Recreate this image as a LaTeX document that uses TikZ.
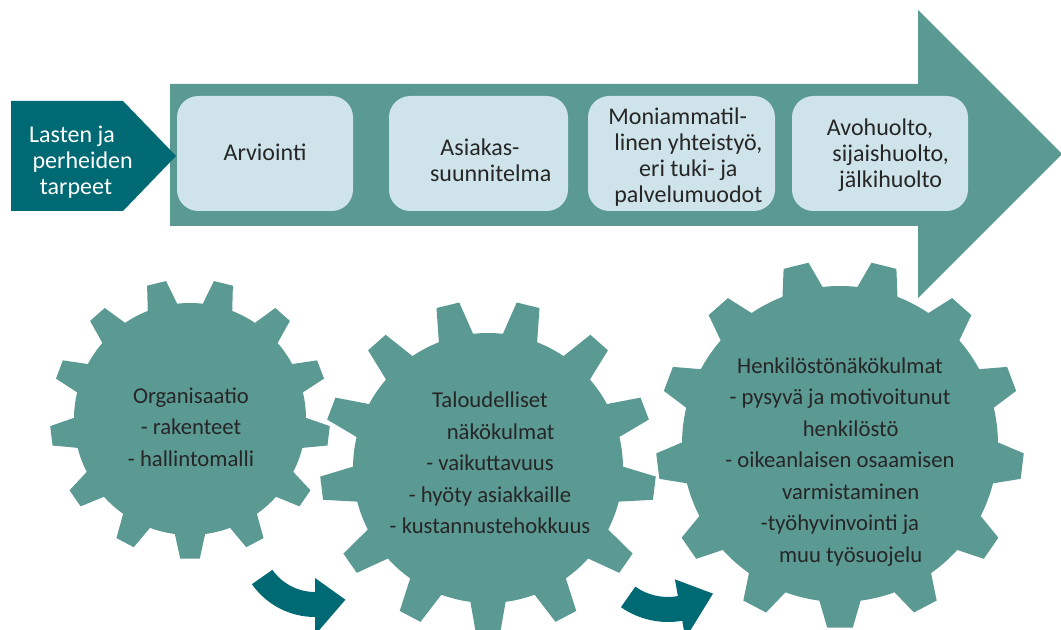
\documentclass[tikz,border=0pt]{standalone}
\usepackage{fontspec}
\setmainfont{Carlito}
\usepackage{tikz}

\definecolor{flowteal}{HTML}{5B9993}
\definecolor{darkteal}{HTML}{006A74}
\definecolor{boxblue}{HTML}{CFE4EA}
\definecolor{inktext}{HTML}{262626}

\begin{document}
\begin{tikzpicture}[x=0.75pt,y=0.75pt,yscale=-1,xscale=1,
    boxtext/.style={inner sep=0.75pt,align=center,text=inktext,font=\fontsize{18}{19.5}\selectfont},
    geartext/.style={inner sep=0.75pt,align=center,text=inktext,font=\fontsize{17}{23.6}\selectfont},
    gearfill/.style={fill=flowteal},
    turnfill/.style={fill=darkteal}]
    \useasboundingbox (0,0) rectangle (1061,630); %set diagram size 1061 x 630

    %Shape: Right Arrow
    \fill[flowteal] (170,84) -- (918,84) -- (918,10) -- (1062,154) -- (918,298) -- (918,226) -- (170,226) -- cycle ;
    %Shape: Pentagon
    \fill[darkteal] (11,101) -- (123,101) -- (176,156) -- (123,211) -- (11,211) -- cycle ;
    %Shape: Rounded Rectangles
    \fill[boxblue, rounded corners=16pt] (177,96) rectangle (353,211) ;
    \fill[boxblue, rounded corners=16pt] (389,96) rectangle (568,211) ;
    \fill[boxblue, rounded corners=16pt] (588,96) rectangle (775,211) ;
    \fill[boxblue, rounded corners=16pt] (792,96) rectangle (968,211) ;

    %Shape: Gears (13 teeth each)
    \foreach \gx/\gy/\ro/\ri in {190/419/140/116, 488/468/168/135, 840/444/184/158}{
      \fill[gearfill, shift={(\gx,\gy)}] (82.5:\ri)
        \foreach \k in {0,...,12}{
          -- (\k*27.692+86:\ro) -- (\k*27.692+94:\ro) -- (\k*27.692+97.5:\ri)
          arc[start angle=\k*27.692+97.5, end angle=\k*27.692+110.192, radius=\ri]
        } -- cycle ;
    }

    %Shape: Curved Arrows
    \fill[turnfill, shift={(315,540)}] (145:77) arc[start angle=145, end angle=90, radius=77] -- (90:95) -- (63:67) -- (90:38) -- (90:52) arc[start angle=90, end angle=145, radius=52] -- cycle ;
    \fill[turnfill, shift={(668,540)}] (125:82) arc[start angle=125, end angle=80, radius=82] -- (80:100) -- (50:70) -- (80:40) -- (80:57) arc[start angle=80, end angle=125, radius=57] -- cycle ;

    % Text Node
    \node[boxtext, text=white] (tarpeet) at (80,162) {Lasten ja\hspace*{12pt}\\\hspace*{4pt}perheiden\\tarpeet\hspace*{6pt}};
    % Text Node
    \node[boxtext] (arviointi) at (265,152) {Arviointi};
    % Text Node
    \node[boxtext] (asiakas) at (480,160) {Asiakas-\\\hspace*{16pt}suunnitelma};
    % Text Node
    \node[boxtext] (moniammatil) at (683,157.5) {Moniammatil-\hspace*{8pt}\\\hspace*{8pt}linen yhteistyö,\\\hspace*{8pt}eri tuki- ja\\\hspace*{8pt}palvelumuodot};
    % Text Node
    \node[boxtext] (avohuolto) at (880,155) {Avohuolto,\\\hspace*{16pt}sijaishuolto,\\\hspace*{16pt}jälkihuolto};
    % Text Node
    \node[geartext] (organisaatio) at (191,427) {Organisaatio\\- rakenteet\\- hallintomalli};
    % Text Node
    \node[geartext] (talous) at (490,463) {Taloudelliset\\\hspace*{16pt}näkökulmat\\- vaikuttavuus\\- hyöty asiakkaille\\- kustannustehokkuus};
    % Text Node
    \node[geartext] (henkilosto) at (840,462) {Henkilöstönäkökulmat\\- pysyvä ja motivoitunut\\\hspace*{16pt}henkilöstö\\- oikeanlaisen osaamisen\\\hspace*{16pt}varmistaminen\\-työhyvinvointi ja\\\hspace*{16pt}muu työsuojelu};

\end{tikzpicture}
\end{document}
